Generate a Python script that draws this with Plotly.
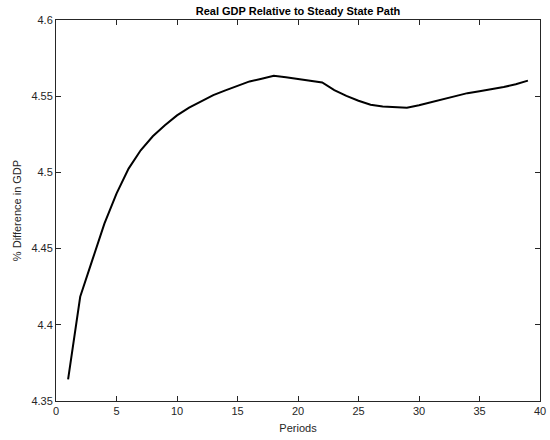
import plotly.graph_objects as go

periods = list(range(1, 40))
gdp_diff = [4.3642, 4.4184, 4.4424, 4.4664, 4.4861, 4.5025, 4.5145, 4.5237, 4.5309, 4.5374,
            4.5425, 4.5468, 4.5507, 4.5538, 4.5569, 4.5597, 4.5615, 4.5634, 4.5624, 4.5612,
            4.5601, 4.5590, 4.5540, 4.5502, 4.5470, 4.5444, 4.5433, 4.5428, 4.5425, 4.5440,
            4.5460, 4.5480, 4.5502, 4.5520, 4.5533, 4.5546, 4.5560, 4.5578, 4.5602]

x_ticks = [0, 5, 10, 15, 20, 25, 30, 35, 40]
y_ticks = [4.35, 4.4, 4.45, 4.5, 4.55, 4.6]
y_ticktext = ["4.35", "4.4", "4.45", "4.5", "4.55", "4.6"]

fig = go.Figure()
fig.add_trace(go.Scatter(x=periods, y=gdp_diff, mode="lines",
                         line=dict(color="black", width=2), showlegend=False))

axis_common = dict(showline=True, linecolor="#262626", linewidth=1, mirror="ticks",
                   ticks="inside", ticklen=5, tickcolor="#262626", showgrid=False,
                   zeroline=False, automargin=False,
                   tickfont=dict(family="Liberation Sans, Arial", size=11, color="#262626"))

fig.update_layout(
    template="none",
    width=550, height=440,
    margin=dict(l=56, r=10, t=20, b=39, pad=0),
    paper_bgcolor="white", plot_bgcolor="white",
    title=dict(text="<b>Real GDP Relative to Steady State Path</b>", x=0.5, xanchor="center",
               xref="paper", y=1 - 11/440, yanchor="middle",
               font=dict(family="Liberation Sans, Arial", size=11, color="black")),
    xaxis=dict(range=[0, 40], tickvals=x_ticks,
               title=dict(text="Periods", standoff=8,
                          font=dict(family="Liberation Sans, Arial", size=11, color="#262626")),
               **axis_common),
    yaxis=dict(range=[4.35, 4.6], tickvals=y_ticks, ticktext=y_ticktext,
               title=dict(text="% Difference in GDP", standoff=7,
                          font=dict(family="Liberation Sans, Arial", size=11, color="#262626")),
               **axis_common),
)

fig.write_html("out.html", config={"displayModeBar": False},
               post_script="document.body.style.margin='0';")
